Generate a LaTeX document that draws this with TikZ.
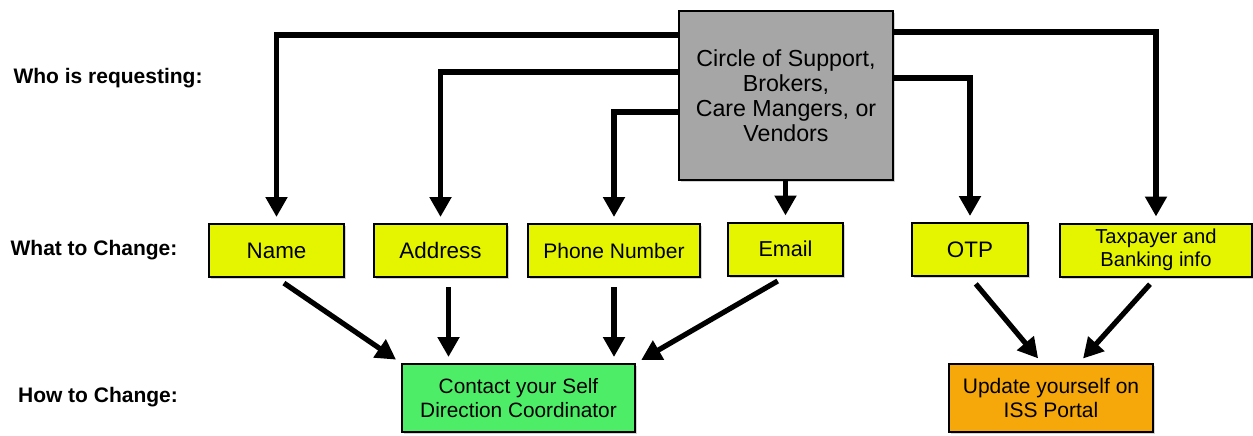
\documentclass[tikz,border=0pt]{standalone}
\usepackage{fontspec}
\setmainfont{Liberation Sans}
\usetikzlibrary{arrows.meta,shadows}
\definecolor{gris}{RGB}{166,166,166}
\definecolor{jaune}{RGB}{229,245,0}
\definecolor{vert}{RGB}{78,237,104}
\definecolor{orangeC}{RGB}{246,168,10}
\tikzstyle{fleche} = [-{Triangle[width=10.5pt,length=10pt]},line width=2.6pt,shorten >=3pt]
\tikzstyle{flechebas} = [fleche,shorten <=4.5pt]
\tikzstyle{boite} = [draw,line width=1pt,align=center,inner sep=0pt,drop shadow={shadow xshift=1pt,shadow yshift=-1pt,opacity=0.35}]
\tikzstyle{casejaune} = [boite,fill=jaune,minimum height=26.5pt]
\tikzstyle{etiquette} = [font=\fontsize{10.5}{12}\selectfont\bfseries]

\begin{document}
\begin{tikzpicture}[x=0.5pt,y=-0.5pt]
\useasboundingbox (0,0) rectangle (1253,435);

%% Les etiquettes a gauche
	\node[etiquette] (who) at (108,78) {Who is requesting:};
	\node[etiquette] (what) at (94,250) {What to Change:};
	\node[etiquette] (how) at (98,397) {How to Change:};

%% Boite du haut
	\node[boite,fill=gris,minimum width=107pt,minimum height=84.5pt,font=\fontsize{11.6}{12.5}\selectfont] (cos) at (786,95.5) {Circle of Support,\\Brokers,\\Care Mangers, or\\Vendors};

%% Ce qui change
	\node[casejaune,minimum width=67.5pt,font=\fontsize{11.2}{12}\selectfont] (name) at (276.5,250.5) {Name};
	\node[casejaune,minimum width=66.5pt,font=\fontsize{11.2}{12}\selectfont] (address) at (440.5,250.5) {Address};
	\node[casejaune,minimum width=86pt,font=\fontsize{10.5}{12}\selectfont] (phone) at (614,250.5) {Phone Number};
	\node[casejaune,minimum width=57.5pt,font=\fontsize{10.8}{12}\selectfont] (email) at (785.5,249) {Email};
	\node[casejaune,minimum width=58pt,font=\fontsize{11.2}{12}\selectfont] (otp) at (970,249.5) {OTP};
	\node[casejaune,minimum width=96pt,font=\fontsize{10.1}{11.5}\selectfont] (tax) at (1156,250) {Taxpayer and\\Banking info};

%% Comment changer
	\node[boite,fill=vert,minimum width=116.5pt,minimum height=34pt,font=\fontsize{10.4}{12}\selectfont] (contact) at (518.5,398) {Contact your Self\\Direction Coordinator};
	\node[boite,fill=orangeC,minimum width=102pt,minimum height=34pt,font=\fontsize{10.5}{12}\selectfont] (update) at (1051,398) {Update yourself on\\ISS Portal};

%% Fleches du haut
	\draw[fleche] (cos.west |- 0,35) -| (name.north);
	\draw[fleche] (cos.west |- 0,72) -| (address.north);
	\draw[fleche] (cos.west |- 0,112) -| (phone.north);
	\draw[fleche] (email.north |- cos.south) -- (email.north);
	\draw[fleche] (cos.east |- 0,32) -| (tax.north);
	\draw[fleche] (cos.east |- 0,78) -| (otp.north);

%% Fleches du bas
	\draw[flechebas] (name.south) -- (contact.north west);
	\draw[flechebas] ([xshift=4pt]address.south) -- ([xshift=4pt]address.south |- contact.north);
	\draw[flechebas] (phone.south) -- (phone.south |- contact.north);
	\draw[flechebas] (email.south) -- (contact.north east);
	\draw[flechebas] (otp.south) -- ([xshift=-4.5pt]update.north);
	\draw[flechebas] (tax.south) -- ([xshift=14pt]update.north);

\end{tikzpicture}
\end{document}
